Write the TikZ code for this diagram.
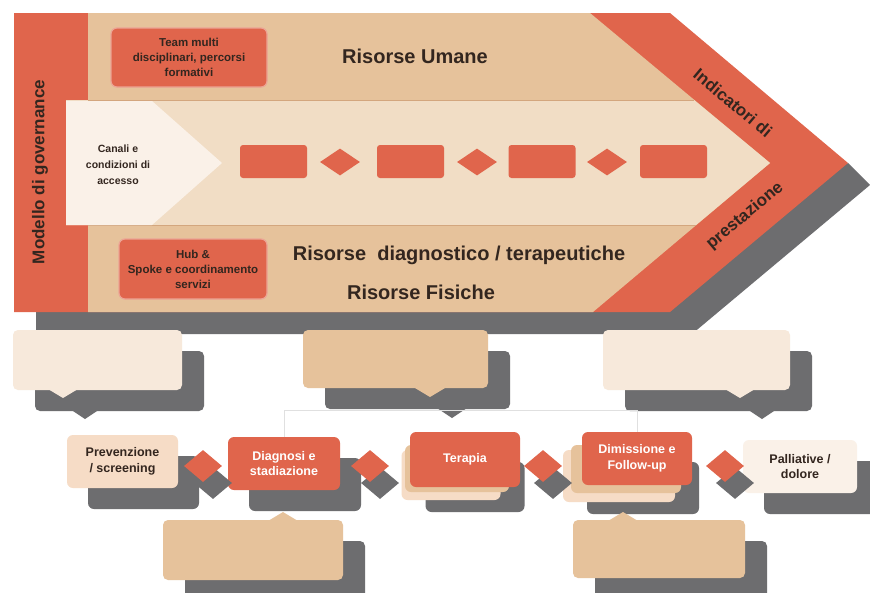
\documentclass[tikz,border=0pt]{standalone}
\usepackage{fontspec}
\setmainfont{Liberation Sans}
\usepackage{xcolor}
\usetikzlibrary{shapes.geometric,shadows,calc}

\definecolor{govred}{HTML}{E0654C}
\definecolor{bandtan}{HTML}{E6C29B}
\definecolor{bandlight}{HTML}{F1DDC5}
\definecolor{paper}{HTML}{FAF1E8}
\definecolor{cream}{HTML}{F7E9DB}
\definecolor{pinkcream}{HTML}{F6DCC6}
\definecolor{shadowgrey}{HTML}{6D6D6F}
\definecolor{inkbrown}{HTML}{33261F}
\definecolor{seamtan}{HTML}{D3A67E}

\begin{document}
\begin{tikzpicture}[x=1pt,y=-1pt,
            panel/.style={rectangle, rounded corners=6pt, align=center, inner sep=2pt, font=\fontsize{12.5}{15.5}\selectfont\bfseries},
            redbox/.style={panel, fill=govred, draw=govred!60!white, line width=1.2pt, text=inkbrown, font=\fontsize{11.5}{15}\selectfont\bfseries},
            flowbox/.style={rectangle, rounded corners=3pt, fill=govred, minimum width=67pt, minimum height=33pt},
            link/.style={diamond, aspect=1.3, fill=govred, inner sep=0pt, minimum width=40pt, minimum height=27pt},
            stepbox/.style={panel, minimum height=53pt, general shadow={fill=shadowgrey, shadow xshift=21pt, shadow yshift=-21pt}},
            stepred/.style={stepbox, fill=govred, text=white},
            steplight/.style={stepbox, fill=pinkcream, text=inkbrown},
            layer/.style={rectangle, rounded corners=6pt},
            steplink/.style={diamond, aspect=1.2, fill=govred, inner sep=0pt, minimum width=38pt, minimum height=32pt, general shadow={fill=shadowgrey, shadow xshift=10pt, shadow yshift=-17pt}},
            note/.style={rectangle, rounded corners=5pt, general shadow={fill=shadowgrey, shadow xshift=22pt, shadow yshift=-21pt}},
            bandlabel/.style={font=\fontsize{20}{24}\selectfont\bfseries, text=inkbrown},
            sidelabel/.style={font=\fontsize{17}{20}\selectfont\bfseries, text=inkbrown},
            faint/.style={draw=black!12, line width=0.6pt}
        ]
        \fill[white] (0,0) rectangle (870,592);
        \useasboundingbox (0,0) rectangle (870,592);

        % big chevron
        \fill[shadowgrey] (848,163) -- (870,185) -- (692,334) -- (36,334) -- (36,300) -- (600,300) -- cycle;
        \fill[govred] (14,13) -- (670,13) -- (848,163) -- (670,312) -- (14,312) -- cycle;
        \fill[bandtan] (88,13) -- (590,13) -- (770,163) -- (593,312) -- (88,312) -- cycle;
        \fill[bandlight] (66,100) -- (694,100) -- (770,163) -- (696,225) -- (66,225) -- cycle;
        \draw[seamtan, line width=1pt] (88,100) -- (694,100);
        \draw[seamtan, line width=1pt] (88,225) -- (696,225);
        \fill[paper] (66,101) -- (152,101) -- (222,163) -- (152,225) -- (66,225) -- cycle;

        \node[sidelabel, rotate=90] (gov) at (40,172) {Modello di governance};
        \node[sidelabel, rotate=-40] (ind) at (733,103) {Indicatori di};
        \node[sidelabel, rotate=40] (prest) at (745,216) {prestazione};

        \node[redbox, minimum width=156pt, minimum height=59pt] (team) at (189,57.5) {Team multi\\disciplinari, percorsi\\formativi};
        \node[redbox, minimum width=148pt, minimum height=60pt] (hub) at (193,269) {Hub \&\\Spoke e coordinamento\\servizi};
        \node[panel, text=inkbrown, font=\fontsize{10.5}{16}\selectfont\bfseries] (canali) at (118,165) {Canali e\\condizioni di\\accesso};

        \node[bandlabel] (umane) at (415,56) {Risorse Umane};
        \node[bandlabel] (diagter) at (459,255) {Risorse\ \ diagnostico / terapeutiche};
        \node[bandlabel] (fisiche) at (421,292) {Risorse Fisiche};

        \node[flowbox] (f1) at (273.5,161.5) {};
        \node[link] (l1) at (340,162) {};
        \node[flowbox] (f2) at (410.5,161.5) {};
        \node[link] (l2) at (477,162) {};
        \node[flowbox] (f3) at (542,161.5) {};
        \node[link] (l3) at (607,162) {};
        \node[flowbox] (f4) at (673.5,161.5) {};

        % upper notes
        \coordinate (tipA) at (63,398);
        \coordinate (tipB) at (430,397);
        \coordinate (tipC) at (740,398);
        \fill[shadowgrey] ($(tipA)+(7,11)$) -- ($(tipA)+(22,21)$) -- ($(tipA)+(37,11)$) -- cycle;
        \fill[shadowgrey] ($(tipB)+(7,11)$) -- ($(tipB)+(22,21)$) -- ($(tipB)+(37,11)$) -- cycle;
        \fill[shadowgrey] ($(tipC)+(7,11)$) -- ($(tipC)+(22,21)$) -- ($(tipC)+(37,11)$) -- cycle;
        \node[note, fill=cream, minimum width=169pt, minimum height=60pt] (noteA) at (97.5,360) {};
        \node[note, fill=bandtan, minimum width=185pt, minimum height=58pt] (noteB) at (395.5,359) {};
        \node[note, fill=cream, minimum width=187pt, minimum height=60pt] (noteC) at (696.5,360) {};
        \fill[cream] ($(tipA)+(-15,-9)$) -- (tipA) -- ($(tipA)+(15,-9)$) -- cycle;
        \fill[bandtan] ($(tipB)+(-15,-9)$) -- (tipB) -- ($(tipB)+(15,-9)$) -- cycle;
        \fill[cream] ($(tipC)+(-15,-9)$) -- (tipC) -- ($(tipC)+(15,-9)$) -- cycle;

        \draw[faint] (284,437) -- (284,410) -- (637,410) -- (637,432);

        % path of care
        \node[steplight, minimum width=111pt] (prev) at (122.5,461.5) {Prevenzione\\/ screening};
        \node[stepred, minimum width=112pt] (diag) at (284,463.5) {Diagnosi e\\stadiazione};

        \node[layer, fill=pinkcream, minimum width=99pt, minimum height=50pt, general shadow={fill=shadowgrey, shadow xshift=24pt, shadow yshift=-12pt}] (terB) at (451,475) {};
        \node[layer, fill=bandtan, minimum width=104pt, minimum height=47pt] (terM) at (457,468.5) {};
        \node[panel, fill=govred, text=white, minimum width=110pt, minimum height=55pt] (ter) at (465,459.5) {Terapia};

        \node[layer, fill=pinkcream, minimum width=112pt, minimum height=52pt, general shadow={fill=shadowgrey, shadow xshift=24pt, shadow yshift=-12pt}] (dimB) at (619,476) {};
        \node[layer, fill=bandtan, minimum width=110pt, minimum height=48pt] (dimM) at (626,469) {};
        \node[panel, fill=govred, text=white, minimum width=110pt, minimum height=53pt] (dim) at (637,458.5) {Dimissione e\\Follow-up};

        \node[steplight, fill=paper, minimum width=114pt] (pall) at (800,466.5) {Palliative /\\dolore};

        \node[steplink] (s1) at (203,466) {};
        \node[steplink] (s2) at (370,466) {};
        \node[steplink] (s3) at (543,466) {};
        \node[steplink] (s4) at (725,466) {};

        % lower notes
        \coordinate (tipD) at (283,512);
        \coordinate (tipE) at (623,512);
        \node[note, fill=bandtan, minimum width=180pt, minimum height=60pt] (noteD) at (253,550) {};
        \node[note, fill=bandtan, minimum width=172pt, minimum height=58pt] (noteE) at (659,549) {};
        \fill[bandtan] ($(tipD)+(-15,9)$) -- (tipD) -- ($(tipD)+(15,9)$) -- cycle;
        \fill[bandtan] ($(tipE)+(-15,9)$) -- (tipE) -- ($(tipE)+(15,9)$) -- cycle;
    \end{tikzpicture}
\end{document}
